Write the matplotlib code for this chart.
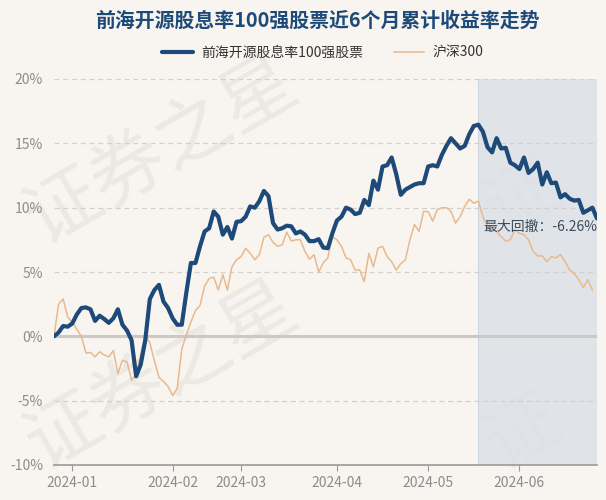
import matplotlib
matplotlib.use("Agg")
import matplotlib.pyplot as plt
import numpy as np

plt.rcParams['font.family'] = ['Noto Sans CJK SC', 'DejaVu Sans']

title = "前海开源股息率100强股票近6个月累计收益率走势"
fund_name = "前海开源股息率100强股票"
index_name = "沪深300"

# trading-day index axis; month tick positions (first trading day of each month)
month_labels = ["2024-01", "2024-02", "2024-03", "2024-04", "2024-05", "2024-06"]
month_pos = [4, 26, 41, 62, 82, 102]

fund = [0.0, 0.3, 0.8, 0.75, 1.0, 1.7, 2.2, 2.25, 2.1, 1.2,
        1.6, 1.35, 1.05, 1.4, 2.1, 0.9, 0.45, -0.3, -3.1, -2.2,
        -0.3, 2.9, 3.6, 4.0, 2.7, 2.2, 1.4, 0.9, 0.9, 3.4,
        5.7, 5.7, 7.0, 8.15, 8.4, 9.7, 9.3, 7.9, 8.5, 7.6,
        8.9, 8.95, 9.3, 10.1, 10.0, 10.5, 11.3, 10.9, 8.8, 8.3,
        8.4, 8.6, 8.55, 8.0, 8.15, 7.9, 7.4, 7.4, 7.55, 6.9,
        6.85, 8.0, 9.0, 9.3, 10.0, 9.85, 9.5, 9.6, 10.6, 10.2,
        12.1, 11.4, 13.2, 13.3, 13.9, 12.6, 11.0, 11.4, 11.6, 11.8,
        11.9, 11.9, 13.2, 13.3, 13.2, 14.1, 14.8, 15.4, 15.0, 14.6,
        14.8, 15.7, 16.35, 16.45, 15.9, 14.7, 14.3, 15.4, 14.6, 14.65,
        13.5, 13.3, 13.0, 13.9, 12.7, 13.0, 13.5, 11.8, 12.75, 11.9,
        11.95, 10.8, 11.05, 10.7, 10.55, 10.6, 9.6, 9.8, 10.0, 9.16]

hs300 = [0.0, 2.5, 2.9, 1.5, 1.1, 0.55, 0.0, -1.3, -1.25, -1.6,
         -1.2, -1.45, -1.6, -1.1, -2.9, -1.85, -2.0, -3.4, -3.0, -1.4,
         0.1, -0.5, -1.9, -3.2, -3.5, -3.9, -4.6, -4.05, -1.0, 0.1,
         1.1, 2.0, 2.4, 3.9, 4.5, 4.6, 3.6, 4.8, 3.6, 5.4,
         5.95, 6.2, 6.85, 6.45, 5.95, 6.35, 7.7, 7.9, 7.3, 7.0,
         7.1, 8.1, 7.4, 7.5, 7.5, 6.6, 6.0, 6.35, 5.0, 5.7,
         6.1, 7.75, 7.5, 7.0, 6.1, 5.95, 5.15, 5.15, 4.25, 6.45,
         5.4, 6.85, 7.0, 6.2, 5.8, 5.15, 5.65, 5.95, 7.5, 8.7,
         8.15, 9.7, 9.7, 8.95, 9.85, 10.0, 10.0, 9.7, 8.8, 9.3,
         10.1, 10.65, 10.35, 10.5, 9.3, 8.55, 8.3, 8.15, 7.75, 7.4,
         7.5, 8.3, 8.0, 7.9, 7.5, 6.6, 6.25, 6.25, 5.8, 6.2,
         6.1, 6.35, 5.8, 5.15, 4.9, 4.4, 3.8, 4.4, 3.6]

drawdown_label = "最大回撤：-6.26%"

bg = "#f8f5f1"
navy = "#1d4a78"
orange = "#e9b98c"
W, H = 606, 500

fig = plt.figure(figsize=(6.06, 5.0), dpi=100, facecolor=bg)
ax = fig.add_axes([54/W, 35/H, 543/W, 386/H], facecolor="none")
ax.set_zorder(2)

# watermark (behind the axes)
wm = dict(color="#ece8e3", rotation=30, rotation_mode="anchor",
          ha="left", va="baseline", zorder=0)
fig.text(42/W, 1 - 245/H, "证券之星", fontsize=54, **wm)
fig.text(42/W, 1 - 470/H, "证券之星", fontsize=54, **wm)
fig.text(500/W, 1 - 235/H, "证", fontsize=54, **wm)
fig.text(500/W, 1 - 470/H, "证", fontsize=54, **wm)

# drawdown shading
peak = int(np.argmax(fund))
ax.axvspan(peak, len(fund) - 1, color="#dce2e7", alpha=0.85, zorder=1, lw=0)
ax.axvline(peak, color="#cfd7de", lw=0.8, zorder=1)
ax.axvline(len(fund) - 1, color="#cfd7de", lw=0.8, zorder=1)

# grid
for yv in [-5, 5, 10, 15, 20]:
    ax.axhline(yv, color="#d2d0cc", lw=0.9, ls=(0, (4, 3)), zorder=1.5)
ax.axhline(0, color="#cbc9c6", lw=2.2, zorder=1.6)

ax.plot(np.arange(len(hs300)), hs300, color=orange, lw=1.1, zorder=3, label=index_name)
ax.plot(np.arange(len(fund)), fund, color=navy, lw=3.0, zorder=4, label=fund_name,
        solid_joinstyle="round", solid_capstyle="round")

ax.text(len(fund) - 1, 8.5, drawdown_label, ha="right", va="center",
        fontsize=10, color="#3b4b5c", zorder=5)

ax.set_xlim(0, len(fund) - 1)
ax.set_ylim(-10, 20)
ax.set_yticks([-10, -5, 0, 5, 10, 15, 20])
ax.set_yticklabels([f"{v}%" for v in [-10, -5, 0, 5, 10, 15, 20]])
ax.set_xticks(month_pos)
ax.set_xticklabels(month_labels)

for s in ["top", "right", "left"]:
    ax.spines[s].set_visible(False)
ax.spines["bottom"].set_color("#9a9a9a")
ax.spines["bottom"].set_linewidth(1.2)
ax.tick_params(axis="y", length=0, pad=8, labelsize=10, labelcolor="#8c8c8c")
ax.tick_params(axis="x", length=4, color="#9a9a9a", pad=4, labelsize=10,
               labelcolor="#8c8c8c")

# legend
h, l = ax.get_legend_handles_labels()
fig.legend([h[1], h[0]], [l[1], l[0]], loc="center", bbox_to_anchor=(323/W, 1 - 53/H),
           ncol=2, frameon=False, fontsize=10, handlelength=2.2, handletextpad=0.6,
           columnspacing=2.2, labelcolor="#333333")

fig.text(317/W, 1 - 20/H, title, ha="center", va="center", fontsize=14.3,
         fontweight="bold", color="#1d4a78")

fig.savefig("out.png", dpi=100, facecolor=bg)
